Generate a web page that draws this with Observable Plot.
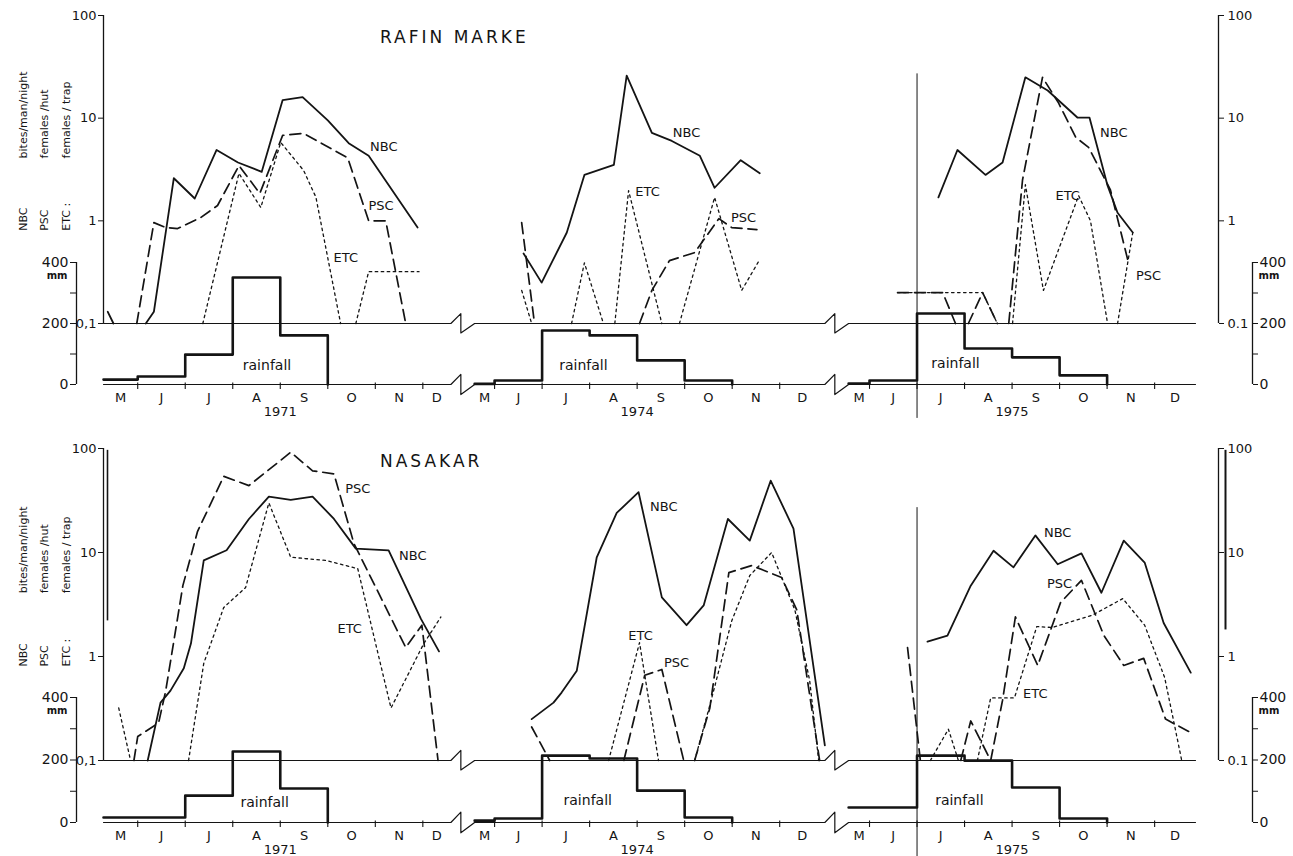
<!DOCTYPE html>
<html>
<head>
<meta charset="utf-8">
<script src="https://cdn.jsdelivr.net/npm/d3@7"></script>
<script src="https://cdn.jsdelivr.net/npm/@observablehq/plot@0.6"></script>
<style>
  body { margin: 0; background: #fff; }
  #fig { position: relative; width: 1293px; height: 856px; background: #fff; color: #141414; font-family: "DejaVu Sans", sans-serif; }
  .panel { position: absolute; left: 0; width: 1293px; }
  .panel svg { position: absolute; left: 0; top: 0; }
  .site { position: absolute; font-size: 17px; line-height: 1; letter-spacing: 3px; white-space: nowrap; }
</style>
</head>
<body>
<div id="fig"></div>
<script>
// ---- time axis -----------------------------------------------------------
// months are counted from 1 January (5 = 1 June); each year shows May..Dec
const years = [1971, 1974, 1975];
const monthLetters = ["J", "F", "M", "A", "M", "J", "J", "A", "S", "O", "N", "D"];
const yearWindows = [[4.28, 11.59], [4.58, 11.95], [4.56, 11.86]];
const breakGap = 0.5;               // width of the axis break between years (months)

// ---- rainfall, mm per month, May .. Nov ----------------------------------
const rainMonths = [4, 5, 6, 7, 8, 9, 10];
const rafinRain1971 = [16, 26, 98, 351, 161, 0, 0];
const rafinRain1974 = [2, 13, 177, 161, 79, 13, 0];
const rafinRain1975 = [3, 13, 233, 118, 89, 30, 0];
const nasakarRain1971 = [16, 16, 86, 227, 109, 0, 0];
const nasakarRain1974 = [6, 13, 214, 205, 102, 16, 0];
const nasakarRain1975 = [48, 48, 214, 198, 112, 13, 0];

// ---- catches: [month, value]; 0 = none caught ------------------------------
// NBC bites/man/night, PSC females/hut, ETC females/trap
const rafinNBC1971 = [[4.37,0.13],[4.49,0],[5.17,0],[5.34,0.13],[5.76,2.6],[6.2,1.65],[6.66,4.9],[7.11,3.7],[7.61,3.0],[8.05,15],[8.47,16],[9.0,9.5],[9.44,5.7],[9.86,4.3],[10.89,0.86]];
const rafinPSC1971 = [[4.98,0],[5.34,0.96],[5.59,0.86],[5.84,0.84],[6.33,1.08],[6.68,1.41],[7.13,3.45],[7.57,1.85],[8.05,6.8],[8.49,7.1],[9.42,4.1],[9.86,1.0],[10.22,1.0],[10.64,0]];
const rafinETC1971 = [[6.37,0],[7.13,2.9],[7.59,1.35],[8.01,5.8],[8.49,3.1],[8.75,1.7],[9.27,0],[9.59,0],[9.86,0.32],[10.92,0.32]];

const rafinNBC1974 = [[5.61,0.48],[5.99,0.25],[6.52,0.77],[6.89,2.8],[7.51,3.5],[7.78,26],[8.31,7.2],[8.73,6.0],[9.32,4.3],[9.63,2.1],[10.18,3.9],[10.58,2.9]];
const rafinPSC1974 = [[5.57,0.96],[5.84,0],[8.05,0],[8.31,0.21],[8.68,0.41],[9.21,0.49],[9.72,1.05],[9.99,0.86],[10.52,0.82]];
const rafinETC1974 = [[5.57,0.21],[5.78,0],[6.62,0],[6.89,0.39],[7.29,0],[7.53,0],[7.82,1.97],[8.52,0],[8.89,0],[9.63,1.69],[10.2,0.21],[10.58,0.42]];

const rafinNBC1975 = [[6.45,1.69],[6.85,4.9],[7.44,2.8],[7.8,3.7],[8.28,25],[8.75,18.6],[9.38,10.1],[9.63,10.1],[10.01,2.2],[10.22,1.2],[10.54,0.77]];
const rafinPSC1975 = [[5.59,0.2],[6.54,0.2],[6.81,0],[7.08,0],[7.38,0.2],[7.69,0],[7.93,0],[8.22,2.5],[8.64,25],[8.98,14],[9.34,6.5],[9.61,5.2],[10.07,2.0],[10.45,0.39]];
const rafinETC1975 = [[5.59,0.2],[7.38,0.2],[7.69,0],[8.01,0],[8.28,2.25],[8.66,0.21],[9.4,1.76],[9.65,1.0],[10.01,0],[10.22,0],[10.54,0.77]];

const nasakarNBC1971 = [[5.21,0],[5.48,0.36],[5.69,0.47],[5.97,0.77],[6.12,1.33],[6.39,8.4],[6.87,10.5],[7.34,21],[7.76,34.5],[8.22,32],[8.68,34.5],[9.13,21],[9.59,10.9],[10.28,10.5],[10.96,2.3],[11.34,1.12]];
const nasakarPSC1971 = [[4.92,0],[5.0,0.17],[5.44,0.23],[5.59,0.47],[5.95,4.8],[6.26,16],[6.81,54],[7.34,44],[8.22,92],[8.68,61],[9.13,57],[9.55,12.2],[10.64,1.22],[10.98,2.0],[11.32,0]];
const nasakarETC1971 = [[4.6,0.32],[4.85,0],[6.07,0],[6.39,0.86],[6.81,2.96],[7.27,4.6],[7.76,30],[8.22,9.0],[8.96,8.4],[9.63,7.0],[10.33,0.32],[11.02,1.33],[11.38,2.4]];

const nasakarNBC1974 = [[5.78,0.25],[6.24,0.36],[6.41,0.45],[6.73,0.73],[7.15,9.0],[7.57,24],[8.03,38],[8.52,3.7],[9.04,2.0],[9.4,3.1],[9.91,21],[10.37,13],[10.81,49],[11.29,17],[11.95,0.14]];
const nasakarPSC1974 = [[5.78,0.21],[6.16,0],[7.72,0],[8.16,0.66],[8.52,0.75],[8.98,0],[9.21,0],[9.53,0.32],[9.93,6.4],[10.41,7.5],[11.04,5.75],[11.36,2.8],[11.84,0]];
const nasakarETC1974 = [[7.4,0],[8.05,1.36],[8.45,0],[9.21,0],[9.53,0.34],[9.99,2.2],[10.37,6.0],[10.83,10],[11.32,2.8],[11.63,0.59],[11.82,0]];

const nasakarNBC1975 = [[6.22,1.39],[6.64,1.59],[7.13,4.8],[7.61,10.4],[8.03,7.2],[8.49,14.6],[8.96,7.7],[9.46,9.8],[9.88,4.1],[10.35,13],[10.79,8.0],[11.19,2.1],[11.76,0.7]];
const nasakarPSC1975 = [[5.8,1.22],[6.07,0],[6.92,0],[7.13,0.24],[7.55,0],[7.8,0.38],[8.07,2.4],[8.54,0.82],[9.02,3.3],[9.46,5.4],[9.93,1.6],[10.35,0.82],[10.77,0.96],[11.23,0.25],[11.72,0.19]];
const nasakarETC1975 = [[6.28,0],[6.66,0.2],[6.87,0],[7.27,0],[7.55,0.4],[8.05,0.4],[8.52,1.94],[8.85,1.9],[9.69,2.5],[10.33,3.6],[10.79,2.0],[11.21,0.63],[11.4,0.24],[11.57,0]];

// ---- axis text -------------------------------------------------------------
const logTicks = [0.1, 1, 10, 100];
const logTickTextLeft = ["0,1", "1", "10", "100"];
const logTickTextRight = ["0.1", "1", "10", "100"];
const rainTicks = [0, 100, 200, 300, 400];
const seriesCodes = ["NBC", "PSC", "ETC :"];
const seriesUnits = ["bites/man/night", "females /hut", "females / trap"];

// ---- where the in-plot words sit: [year, month, value, text] ---------------
const rafinSeriesTags = [
  [1971, 10.18, 5.2, "NBC"], [1971, 10.12, 1.41, "PSC"], [1971, 9.38, 0.44, "ETC"],
  [1974, 9.04, 7.2, "NBC"], [1974, 8.22, 1.93, "ETC"], [1974, 10.24, 1.08, "PSC"],
  [1975, 10.14, 7.2, "NBC"], [1975, 9.17, 1.76, "ETC"], [1975, 10.87, 0.29, "PSC"]
];
const nasakarSeriesTags = [
  [1971, 10.79, 9.2, "NBC"], [1971, 9.63, 41, "PSC"], [1971, 9.46, 1.86, "ETC"],
  [1974, 8.56, 27.7, "NBC"], [1974, 8.07, 1.59, "ETC"], [1974, 8.83, 0.86, "PSC"],
  [1975, 8.96, 15.6, "NBC"], [1975, 9.0, 5.0, "PSC"], [1975, 8.49, 0.44, "ETC"]
];
const rafinRainTags = [[1971, 7.72, 62], [1974, 6.87, 62], [1975, 6.81, 69]];
const nasakarRainTags = [[1971, 7.67, 64], [1974, 6.96, 70], [1975, 6.89, 70]];

// ---------------------------------------------------------------------------
const ink = "#141414";
const FLOOR = 0.1;   // bottom of the log axis, where "none caught" is drawn

// continuous position along the broken time axis
const offsets = {};
{
  let prevEnd = 0;
  years.forEach((yr, i) => {
    const [s, e] = yearWindows[i];
    offsets[yr] = i === 0 ? 0 : prevEnd + breakGap - s;
    prevEnd = e + offsets[yr];
  });
}
const pos = (yr, m) => m + offsets[yr];
const P0 = yearWindows[0][0];
const P1 = yearWindows[2][1] + offsets[years[2]];

function seriesRows(yr, name, pts) {
  const rows = [];
  pts.forEach(([m, v], i) => {
    // no line is drawn along the floor between two empty catches
    if (i > 0 && v === 0 && pts[i - 1][1] === 0) {
      rows.push({yr, name, P: pos(yr, (m + pts[i - 1][0]) / 2), v: NaN});
    }
    rows.push({yr, name, P: pos(yr, m), v: Math.max(v, FLOOR)});
  });
  return rows;
}

function rainRows(yr, values) {
  const s = yearWindows[years.indexOf(yr)][0];
  const rows = [];
  let seen = false;
  for (let i = 0; i < values.length; i++) {
    rows.push({yr, P: pos(yr, Math.max(rainMonths[i], s)), mm: values[i]});
    if (values[i] > 0) seen = true;
    else if (seen) break;
  }
  return rows;
}

// baseline with a zig-zag break between the years
function brokenAxis(base, up, down) {
  const pts = [];
  years.forEach((yr, i) => {
    const [s, e] = yearWindows[i];
    if (i > 0) {
      const prevEnd = pos(years[i - 1], yearWindows[i - 1][1]);
      pts.push({P: prevEnd + 0.21, y: up}, {P: prevEnd + 0.21, y: down});
    }
    pts.push({P: pos(yr, s), y: base}, {P: pos(yr, e), y: base});
  });
  return pts;
}

const monthRows = [];
const boundaryRows = [];
years.forEach((yr, i) => {
  const [s, e] = yearWindows[i];
  for (let k = 4; k < 12; k++) {
    const lo = Math.max(k, s), hi = Math.min(k + 1, e);
    if (hi - lo > 0.3) monthRows.push({P: pos(yr, (lo + hi) / 2), label: monthLetters[k]});
    if (k > s && k < e) boundaryRows.push({P: pos(yr, k)});
  }
});
const yearRows = years.map(yr => ({P: pos(yr, 8), label: String(yr)}));

const lineStyle = {
  NBC: {strokeWidth: 1.8},
  PSC: {strokeWidth: 1.7, strokeDasharray: "11,6"},
  ETC: {strokeWidth: 1.3, strokeDasharray: "2.5,3.5"}
};

const panels = [
  {
    site: "RAFIN MARKE", top: 0, height: 420, titleTop: 28.6,
    logMargins: [15, 97], rainMargins: [262, 36],
    series: [
      [1971, "NBC", rafinNBC1971], [1971, "PSC", rafinPSC1971], [1971, "ETC", rafinETC1971],
      [1974, "NBC", rafinNBC1974], [1974, "PSC", rafinPSC1974], [1974, "ETC", rafinETC1974],
      [1975, "NBC", rafinNBC1975], [1975, "PSC", rafinPSC1975], [1975, "ETC", rafinETC1975]
    ],
    rain: [[1971, rafinRain1971], [1974, rafinRain1974], [1975, rafinRain1975]],
    tags: rafinSeriesTags, rainTags: rafinRainTags, scanLines: false
  },
  {
    site: "NASAKAR", top: 420, height: 436, titleTop: 452.6,
    logMargins: [28, 96], rainMargins: [277, 34],
    series: [
      [1971, "NBC", nasakarNBC1971], [1971, "PSC", nasakarPSC1971], [1971, "ETC", nasakarETC1971],
      [1974, "NBC", nasakarNBC1974], [1974, "PSC", nasakarPSC1974], [1974, "ETC", nasakarETC1974],
      [1975, "NBC", nasakarNBC1975], [1975, "PSC", nasakarPSC1975], [1975, "ETC", nasakarETC1975]
    ],
    rain: [[1971, nasakarRain1971], [1974, nasakarRain1974], [1975, nasakarRain1975]],
    tags: nasakarSeriesTags, rainTags: nasakarRainTags, scanLines: true
  }
];

const fig = document.getElementById("fig");
const common = {
  width: 1293, marginLeft: 103, marginRight: 98,
  x: {type: "linear", domain: [P0, P1], axis: null},
  style: {background: "transparent", fontFamily: "DejaVu Sans, sans-serif", fontSize: "13px", color: ink}
};

for (const p of panels) {
  const div = document.createElement("div");
  div.className = "panel";
  div.style.top = p.top + "px";
  div.style.height = p.height + "px";
  fig.appendChild(div);

  const rows = p.series.flatMap(([yr, name, pts]) => seriesRows(yr, name, pts));
  const rain = p.rain.flatMap(([yr, vals]) => rainRows(yr, vals));
  const divider = pos(1975, 6);

  // catches on the log scale
  const logPlot = Plot.plot({
    ...common,
    height: p.height, marginTop: p.logMargins[0], marginBottom: p.logMargins[1],
    y: {type: "log", domain: [0.1, 100], axis: null, label: null},
    marks: [
      Plot.line(brokenAxis(FLOOR, FLOOR * 1.25, FLOOR * 0.81), {x: "P", y: "y", stroke: ink, strokeWidth: 1.2}),
      Plot.ruleX([P0], {y1: 0.1, y2: 100, stroke: ink, strokeWidth: 1.3}),
      Plot.ruleX([P1], {y1: 0.1, y2: 100, dx: 23, stroke: ink, strokeWidth: 1.3}),
      ...(p.scanLines ? [
        Plot.ruleX([P0], {y1: 2.2, y2: 96, dx: 4, stroke: ink, strokeWidth: 1.6}),
        Plot.ruleX([P1], {y1: 1.8, y2: 96, dx: 30, stroke: ink, strokeWidth: 2})
      ] : []),
      Plot.axisY({anchor: "left", ticks: logTicks, tickFormat: d => logTickTextLeft[logTicks.indexOf(d)],
        tickSize: 5, tickPadding: 2, fontSize: 13, label: null, stroke: ink}),
      Plot.axisY({anchor: "right", dx: 23, ticks: logTicks, tickFormat: d => logTickTextRight[logTicks.indexOf(d)],
        tickSize: 5, tickPadding: 4, fontSize: 13, label: null, stroke: ink}),
      Plot.ruleX([divider], {y1: 0.0119, y2: 27, stroke: ink, strokeWidth: 1}),
      ...["ETC", "PSC", "NBC"].map(n => Plot.line(rows.filter(d => d.name === n), {
        x: "P", y: "v", z: "yr", stroke: ink, strokeLinejoin: "round", ...lineStyle[n]
      })),
      Plot.text(p.tags, {x: d => pos(d[0], d[1]), y: d => d[2], text: d => d[3], fontSize: 13, fill: ink}),
      ...seriesCodes.map((code, i) => Plot.text([code], {
        x: [P0], y: [0.8], dx: [-80, -59, -37][i], rotate: -90, textAnchor: "start", fontSize: 11, fill: ink
      })),
      ...seriesUnits.map((unit, i) => Plot.text([unit], {
        x: [P0], y: [4.05], dx: [-80, -59, -37][i], rotate: -90, textAnchor: "start", fontSize: 11, fill: ink
      }))
    ]
  });

  // rainfall and the month axis on the linear mm scale
  const rainPlot = Plot.plot({
    ...common,
    height: p.height, marginTop: p.rainMargins[0], marginBottom: p.rainMargins[1],
    y: {type: "linear", domain: [0, 400], axis: null, label: null},
    marks: [
      Plot.line(brokenAxis(0, 33, -33), {x: "P", y: "y", stroke: ink, strokeWidth: 1.2}),
      Plot.ruleX(boundaryRows, {x: "P", y1: 5, y2: -16, stroke: ink, strokeWidth: 1.1}),
      Plot.line(rain, {x: "P", y: "mm", z: "yr", curve: "step-after", stroke: ink, strokeWidth: 2.6}),
      Plot.text(p.rainTags, {x: d => pos(d[0], d[1]), y: d => d[2], text: () => "rainfall", fontSize: 14, fill: ink}),
      Plot.text(monthRows, {x: "P", y: 0, dy: 13, text: "label", fontSize: 13, fill: ink}),
      Plot.text(yearRows, {x: "P", y: 0, dy: 27, text: "label", fontSize: 13, fill: ink}),
      Plot.ruleX([P0], {y1: 0, y2: 400, dx: -27, stroke: ink, strokeWidth: 1.3}),
      Plot.ruleX([P1], {y1: 0, y2: 400, dx: 57, stroke: ink, strokeWidth: 1.3}),
      Plot.axisY({anchor: "left", dx: -27, ticks: rainTicks, tickFormat: d => d % 200 === 0 ? String(d) : "",
        tickSize: 6, tickPadding: 2, fontSize: 14, label: null, stroke: ink}),
      Plot.axisY({anchor: "right", dx: 57, ticks: rainTicks, tickFormat: d => d % 200 === 0 ? String(d) : "",
        tickSize: 5, tickPadding: 2, fontSize: 14, label: null, stroke: ink}),
      Plot.text(["mm"], {x: [P0], y: [400], dx: -36, dy: 13, textAnchor: "end", fontSize: 10, fontWeight: "bold", fill: ink}),
      Plot.text(["mm"], {x: [P1], y: [400], dx: 63, dy: 13, textAnchor: "start", fontSize: 10, fontWeight: "bold", fill: ink})
    ]
  });

  div.appendChild(logPlot);
  div.appendChild(rainPlot);

  const title = document.createElement("div");
  title.className = "site";
  title.textContent = p.site;
  title.style.left = "380px";
  title.style.top = p.titleTop + "px";
  fig.appendChild(title);
}
</script>
</body>
</html>
